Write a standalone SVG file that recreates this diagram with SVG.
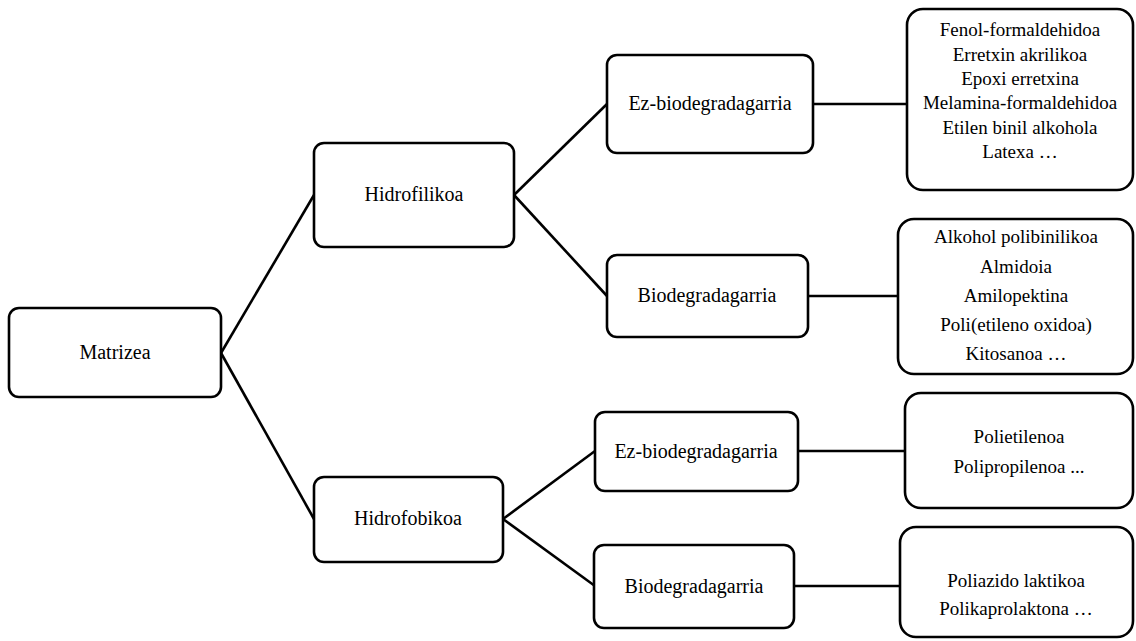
<svg xmlns="http://www.w3.org/2000/svg" width="1136" height="641" viewBox="0 0 1136 641">
<style>
.box{fill:#fff;stroke:#000;stroke-width:2.6}
.c{stroke:#000;stroke-width:2.6;fill:none}
.t{fill:#000;text-anchor:middle}
.m{font-size:20px}
.l{font-size:19px}
</style>
<rect width="1136" height="641" fill="#fff"/>
<g id="connectors">
<line class="c" x1="221" y1="353" x2="314" y2="195"/>
<line class="c" x1="221" y1="353" x2="314" y2="519"/>
<line class="c" x1="514" y1="195" x2="607" y2="104"/>
<line class="c" x1="514" y1="195" x2="607" y2="296"/>
<line class="c" x1="503" y1="519" x2="595" y2="451"/>
<line class="c" x1="503" y1="519" x2="595" y2="586"/>
<line class="c" x1="813" y1="104" x2="907" y2="104"/>
<line class="c" x1="808" y1="296" x2="898" y2="296"/>
<line class="c" x1="798" y1="451" x2="905" y2="451"/>
<line class="c" x1="794" y1="586" x2="900" y2="586"/>
</g>
<g font-family="Liberation Serif, Times New Roman, serif">
<g id="matrizea">
<rect class="box" x="9" y="308" width="212" height="89" rx="10"/>
<text class="t m" x="115" y="359">Matrizea</text>
</g>
<g id="hidrofilikoa">
<rect class="box" x="314" y="143" width="200" height="104" rx="10"/>
<text class="t m" x="414" y="201">Hidrofilikoa</text>
</g>
<g id="hidrofobikoa">
<rect class="box" x="314" y="477" width="189" height="85" rx="10"/>
<text class="t m" x="408" y="525">Hidrofobikoa</text>
</g>
<g id="ez-bio-1">
<rect class="box" x="607" y="55" width="206" height="98" rx="10"/>
<text class="t m" x="710" y="110">Ez-biodegradagarria</text>
</g>
<g id="bio-1">
<rect class="box" x="607" y="255" width="201" height="82" rx="10"/>
<text class="t m" x="707" y="302">Biodegradagarria</text>
</g>
<g id="ez-bio-2">
<rect class="box" x="595" y="412" width="203" height="79" rx="10"/>
<text class="t m" x="696" y="458">Ez-biodegradagarria</text>
</g>
<g id="bio-2">
<rect class="box" x="594" y="545" width="200" height="83" rx="10"/>
<text class="t m" x="694" y="593">Biodegradagarria</text>
</g>
<g id="list-1">
<rect class="box" x="907" y="9" width="226" height="181" rx="16"/>
<text class="t l" x="1020" y="36">Fenol-formaldehidoa</text>
<text class="t l" x="1020" y="61">Erretxin akrilikoa</text>
<text class="t l" x="1020" y="85">Epoxi erretxina</text>
<text class="t l" x="1020" y="109">Melamina-formaldehidoa</text>
<text class="t l" x="1020" y="134">Etilen binil alkohola</text>
<text class="t l" x="1020" y="158">Latexa …</text>
</g>
<g id="list-2">
<rect class="box" x="898" y="219" width="235" height="155" rx="16"/>
<text class="t l" x="1016" y="243">Alkohol polibinilikoa</text>
<text class="t l" x="1016" y="273">Almidoia</text>
<text class="t l" x="1016" y="302">Amilopektina</text>
<text class="t l" x="1016" y="331">Poli(etileno oxidoa)</text>
<text class="t l" x="1016" y="360">Kitosanoa …</text>
</g>
<g id="list-3">
<rect class="box" x="905" y="393" width="228" height="115" rx="16"/>
<text class="t l" x="1019" y="443">Polietilenoa</text>
<text class="t l" x="1019" y="473">Polipropilenoa ...</text>
</g>
<g id="list-4">
<rect class="box" x="900" y="527" width="233" height="110" rx="16"/>
<text class="t l" x="1016" y="587">Poliazido laktikoa</text>
<text class="t l" x="1016" y="615">Polikaprolaktona …</text>
</g>
</g>
</svg>
